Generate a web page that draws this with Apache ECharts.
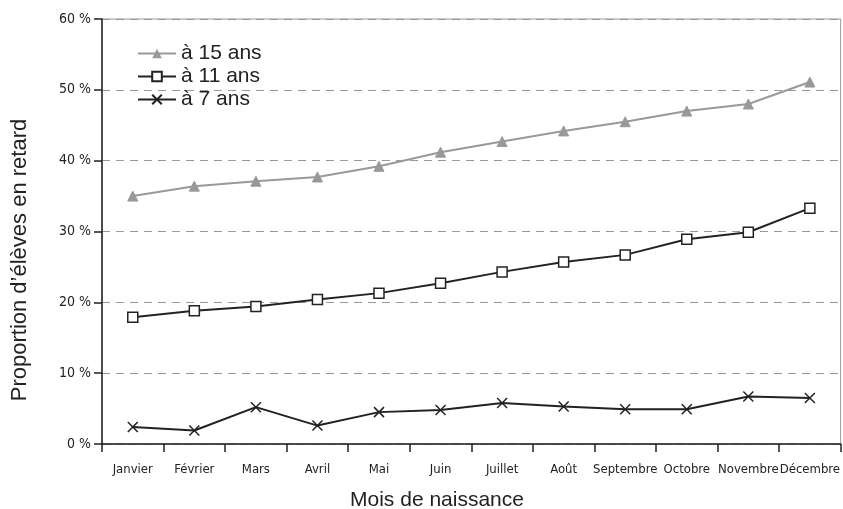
<!DOCTYPE html>
<html><head><meta charset="utf-8">
<script src="https://cdn.jsdelivr.net/npm/echarts@6/dist/echarts.min.js"></script>
<style>html,body{margin:0;padding:0;background:#fff}#c{width:843px;height:509px}</style>
</head><body><div id="c"></div>
<script>
const months = ['Janvier','Février','Mars','Avril','Mai','Juin','Juillet','Août','Septembre','Octobre','Novembre','Décembre'];
const age15 = [35.0, 36.4, 37.1, 37.7, 39.2, 41.2, 42.7, 44.2, 45.5, 47.0, 48.0, 51.1];
const age11 = [17.9, 18.8, 19.4, 20.4, 21.3, 22.7, 24.3, 25.7, 26.7, 28.9, 29.9, 33.3];
const age7  = [2.4, 1.9, 5.2, 2.6, 4.5, 4.8, 5.8, 5.3, 4.9, 4.9, 6.7, 6.5];
const yTicks = [0, 10, 20, 30, 40, 50, 60];
const xTitle = 'Mois de naissance';
const yTitle = 'Proportion d\u2019élèves en retard';

const narrow = '"DejaVu Sans Condensed", "Liberation Sans Narrow", sans-serif';
const regular = '"Liberation Sans", Arial, sans-serif';
const chart = echarts.init(document.getElementById('c'));
chart.setOption({
  animation: false,
  backgroundColor: '#fff',
  grid: {left: 102, right: 1, top: 19, bottom: 65, show: true, borderColor: '#999', borderWidth: 1},
  legend: {
    orient: 'vertical', left: 132, top: 38, itemGap: 2, itemWidth: 38, itemHeight: 12,
    textStyle: {fontFamily: regular, fontSize: 21, lineHeight: 20, color: '#222'},
    data: ['à 15 ans', 'à 11 ans', 'à 7 ans']
  },
  graphic: [
    {type: 'text', x: 437, y: 500, silent: true,
     style: {text: xTitle, font: '21px ' + regular, fill: '#222', align: 'center', verticalAlign: 'middle'}},
    {type: 'text', x: 20, y: 260, rotation: Math.PI / 2, silent: true,
     style: {text: yTitle, font: '22px ' + regular, fill: '#222', align: 'center', verticalAlign: 'middle'}}
  ],
  xAxis: {
    type: 'category', data: months, boundaryGap: true,
    axisLine: {lineStyle: {color: '#222', width: 1.5}},
    axisTick: {show: true, length: 8, lineStyle: {color: '#222', width: 1.5}},
    axisLabel: {fontFamily: narrow, fontSize: 13, color: '#222', margin: 19, interval: 0}
  },
  yAxis: {
    type: 'value', min: yTicks[0], max: yTicks[yTicks.length - 1], interval: 10,
    axisLine: {show: true, lineStyle: {color: '#222', width: 1.5}},
    axisTick: {show: true, length: 8, lineStyle: {color: '#222', width: 1.5}},
    axisLabel: {fontFamily: narrow, fontSize: 14, color: '#222', margin: 11, formatter: v => v + ' %'},
    splitLine: {show: true, lineStyle: {color: '#999', type: [8, 6], width: 1}}
  },
  series: [
    {name: 'à 15 ans', type: 'line', data: age15, symbol: 'triangle', symbolSize: 10,
     lineStyle: {color: '#999', width: 2}, itemStyle: {color: '#999', borderColor: '#999'}},
    {name: 'à 11 ans', type: 'line', data: age11, symbol: 'rect', symbolSize: 10,
     lineStyle: {color: '#222', width: 2}, itemStyle: {color: '#fff', borderColor: '#222', borderWidth: 1.5}},
    {name: 'à 7 ans', type: 'line', data: age7, symbol: 'path://M0,0L10,10M10,0L0,10', symbolSize: 10,
     lineStyle: {color: '#222', width: 2}, itemStyle: {color: '#222', borderColor: '#222', borderWidth: 1.5}}
  ]
});
</script></body></html>
